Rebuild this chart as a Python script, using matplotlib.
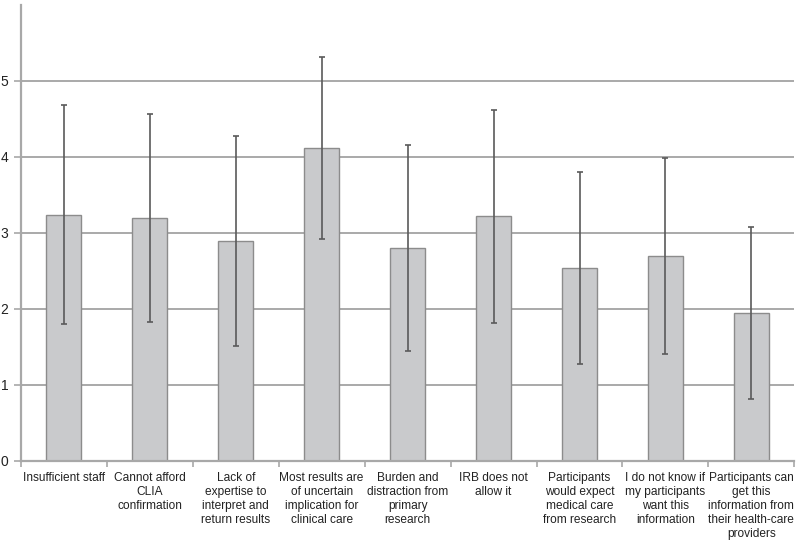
import numpy as np
import matplotlib
matplotlib.use("Agg")
import matplotlib.pyplot as plt

plt.rcParams['font.family'] = ['Liberation Sans', 'DejaVu Sans']

# reasons given for not returning results
labels = [
    "Insufficient staff",
    "Cannot afford\nCLIA\nconfirmation",
    "Lack of\nexpertise to\ninterpret and\nreturn results",
    "Most results are\nof uncertain\nimplication for\nclinical care",
    "Burden and\ndistraction from\nprimary\nresearch",
    "IRB does not\nallow it",
    "Participants\nwould expect\nmedical care\nfrom research",
    "I do not know if\nmy participants\nwant this\ninformation",
    "Participants can\nget this\ninformation from\ntheir health-care\nproviders",
]
means = [3.24, 3.20, 2.89, 4.12, 2.80, 3.22, 2.54, 2.70, 1.95]
sds = [1.44, 1.37, 1.38, 1.20, 1.36, 1.40, 1.26, 1.29, 1.13]

x = np.arange(len(labels))

fig = plt.figure(figsize=(8, 5.46), dpi=100)
ax = fig.add_axes([0.026, 0.156, 0.967, 0.835])

ax.set_axisbelow(True)
ax.yaxis.grid(True, color='#a3a3a3', linewidth=1.3)
ax.bar(x, means, width=0.41, color='#c9cacc', edgecolor='#8c8c8c', linewidth=1.0, zorder=2)
ax.errorbar(x, means, yerr=sds, fmt='none', ecolor='#5a5a5a', elinewidth=1.2,
            capsize=2.5, capthick=1.2, zorder=3)

ax.set_xlim(-0.5, len(labels) - 0.5)
ax.set_ylim(0, 6)
ax.set_yticks([0, 1, 2, 3, 4, 5])
ax.set_xticks(x)
ax.set_xticklabels(labels, fontsize=8.6, color='#222222', linespacing=1.22, va='top')
ax.set_xticks(np.arange(-0.5, len(labels) + 0.5, 1), minor=True)
ax.tick_params(axis='x', which='major', length=0, pad=8)
ax.tick_params(axis='x', which='minor', length=4, color='#a8a8a8', width=1.2)
ax.tick_params(axis='y', length=5, color='#a8a8a8', width=1.2, labelsize=10,
               labelcolor='#222222', pad=4)

for side in ['top', 'right']:
    ax.spines[side].set_visible(False)
for side in ['left', 'bottom']:
    ax.spines[side].set_color('#a8a8a8')
    ax.spines[side].set_linewidth(1.6)

fig.savefig('out.png', dpi=100)
